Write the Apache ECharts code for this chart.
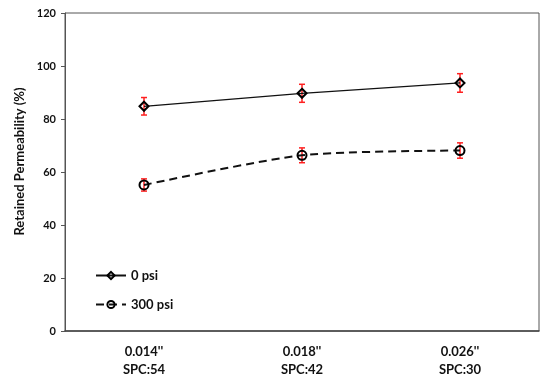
<!DOCTYPE html>
<html>
<head>
<meta charset="utf-8">
<script src="https://cdn.jsdelivr.net/npm/echarts@6/dist/echarts.min.js"></script>
<style>html,body{margin:0;padding:0;background:#fff}#c{width:550px;height:383px}</style>
</head>
<body>
<div id="c"></div>
<script>
var categories = ["0.014''\nSPC:54", "0.018''\nSPC:42", "0.026''\nSPC:30"];
var psi0 = [84.8, 89.7, 93.6];
var psi0Err = [3.3, 3.4, 3.5];
var psi300 = [55.1, 66.3, 68.1];
var psi300Err = [2.3, 2.8, 2.9];
var yTicks = {min: 0, max: 120, interval: 20};

function errData(vals, errs) {
  return vals.map(function (v, i) { return [i, v - errs[i], v + errs[i]]; });
}
function renderErr(params, api) {
  var x = api.value(0);
  var lo = api.coord([x, api.value(1)]);
  var hi = api.coord([x, api.value(2)]);
  var w = 3;
  var st = {stroke: '#ff2020', lineWidth: 1.5};
  return {type: 'group', children: [
    {type: 'line', shape: {x1: lo[0], y1: lo[1], x2: hi[0], y2: hi[1]}, style: st},
    {type: 'line', shape: {x1: lo[0] - w, y1: lo[1], x2: lo[0] + w, y2: lo[1]}, style: st},
    {type: 'line', shape: {x1: hi[0] - w, y1: hi[1], x2: hi[0] + w, y2: hi[1]}, style: st}
  ]};
}
var font = 'Lato, "Open Sans", sans-serif';
var chart = echarts.init(document.getElementById('c'), null, {renderer: 'canvas'});
chart.setOption({
  animation: false,
  grid: {left: 65, right: 11, top: 13, bottom: 52, show: true, borderColor: '#555', borderWidth: 1},
  legend: {
    orient: 'vertical', left: 90, top: 264, itemGap: 16, itemWidth: 30, itemHeight: 9,
    textStyle: {fontFamily: font, fontWeight: 'bold', fontSize: 13, color: '#111'},
    data: ['0 psi', '300 psi']
  },
  xAxis: {
    type: 'category', data: categories, boundaryGap: true,
    axisLine: {lineStyle: {color: '#444', width: 1.5}},
    axisTick: {show: false},
    axisLabel: {fontFamily: font, fontWeight: 'bold', fontSize: 13, color: '#111', margin: 12, lineHeight: 18}
  },
  yAxis: {
    type: 'value', min: yTicks.min, max: yTicks.max, interval: yTicks.interval,
    name: 'Retained Permeability (%)', nameLocation: 'middle', nameGap: 32,
    nameTextStyle: {fontFamily: font, fontWeight: 'bold', fontSize: 13, color: '#111', padding: [0, 0, 0, 21]},
    axisLine: {show: true, lineStyle: {color: '#555'}},
    axisTick: {show: true, length: 4, lineStyle: {color: '#555'}},
    splitLine: {show: false},
    axisLabel: {fontFamily: font, fontWeight: 'bold', fontSize: 11, color: '#111', margin: 9}
  },
  series: [
    {type: 'custom', name: 'err0', renderItem: renderErr, data: errData(psi0, psi0Err), z: 1, silent: true},
    {type: 'custom', name: 'err300', renderItem: renderErr, data: errData(psi300, psi300Err), z: 1, silent: true},
    {
      type: 'line', name: '0 psi', data: psi0, z: 3,
      symbol: 'diamond', symbolSize: 9,
      lineStyle: {color: '#111', width: 1.2},
      itemStyle: {color: 'rgba(255,255,255,0)', borderColor: '#000', borderWidth: 2}
    },
    {
      type: 'line', name: '300 psi', data: psi300, z: 3, smooth: 0.25,
      symbol: 'circle', symbolSize: 9,
      lineStyle: {color: '#111', width: 2, type: [8, 5]},
      itemStyle: {color: 'rgba(255,255,255,0)', borderColor: '#000', borderWidth: 2}
    }
  ]
});
</script>
</body>
</html>
